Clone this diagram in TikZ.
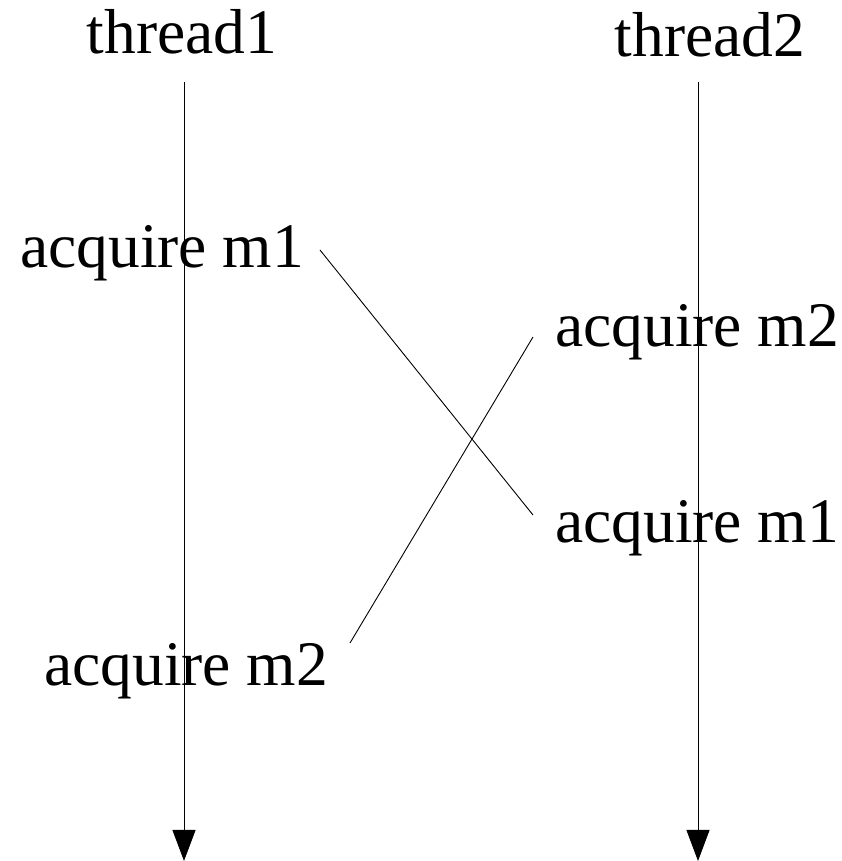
\documentclass[tikz,border=0pt]{standalone}
\usepackage{fontspec}
\setmainfont{Liberation Serif}
\usetikzlibrary{arrows.meta}
\begin{document}
\begin{tikzpicture}[x=1pt,y=1pt,
  lbl/.style={inner sep=0pt,anchor=base west,font=\fontsize{63.5}{70}\selectfont},
  ttl/.style={inner sep=0pt,anchor=base,font=\fontsize{63.5}{70}\selectfont},
  life/.style={line width=1pt,-{Triangle[length=31pt,width=23pt]}},
  cross/.style={line width=0.9pt}]
\useasboundingbox (0,0) rectangle (842,861);
\node[ttl] (t1) at (182,861-54) {thread1};
\node[ttl] (t2) at (710,861-57) {thread2};
\coordinate (t1top) at (184,861-82);
\coordinate (t1bot) at (184,0);
\coordinate (t2top) at (698,861-82);
\coordinate (t2bot) at (698,0);
\draw[life] (t1top) -- (t1bot);
\draw[life] (t2top) -- (t2bot);
\node[lbl] (a1) at (20,861-268) {acquire m1};
\node[lbl] (b2) at (555,861-347) {acquire m2};
\node[lbl] (b1) at (555,861-543) {acquire m1};
\node[lbl] (a2) at (44,861-686) {acquire m2};
\coordinate (a1e) at (320,861-250);
\coordinate (b1w) at (533,861-515);
\coordinate (b2w) at (533,861-337);
\coordinate (a2e) at (350,861-643);
\draw[cross] (a1e) -- (b1w);
\draw[cross] (b2w) -- (a2e);
\end{tikzpicture}
\end{document}
